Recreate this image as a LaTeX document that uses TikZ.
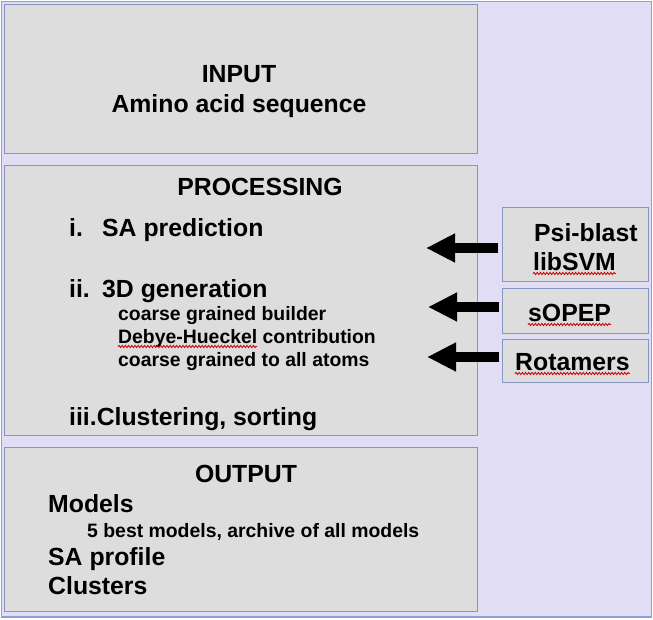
\documentclass[tikz,border=0pt]{standalone}
\usepackage{fontspec}
\setmainfont{Liberation Sans}
\usetikzlibrary{arrows.meta,decorations.pathmorphing}
\definecolor{lav}{RGB}{224,221,245}
\definecolor{boxfill}{RGB}{221,221,221}
\definecolor{boxline}{RGB}{135,150,190}
\definecolor{frameline}{RGB}{140,160,215}
\begin{document}
\begin{tikzpicture}[x=1pt,y=-1pt,
  box/.style={draw=boxline, line width=1pt, fill=boxfill, inner sep=0pt, anchor=north west},
  big/.style={font=\bfseries\fontsize{24.8}{29}\selectfont, inner sep=0pt},
  small/.style={font=\bfseries\fontsize{19.4}{23}\selectfont, inner sep=0pt},
  bigarrow/.style={line width=10pt, -{Triangle[length=29pt,width=27pt]}},
  squig/.style={draw=red!80!black, line width=0.8pt, decorate, decoration={snake, segment length=3.2pt, amplitude=1.1pt}}]
\useasboundingbox (0,0) rectangle (653,619);
\fill[white] (0,0) rectangle (653,619);
\draw[fill=lav, draw=frameline, line width=1.5pt] (1.5,1.5) rectangle (651.5,617);
% main boxes
\node[box, minimum width=473pt, minimum height=149pt] (inbox) at (4,4) {};
\node[box, minimum width=473pt, minimum height=270pt] (procbox) at (4,165) {};
\node[box, minimum width=473pt, minimum height=164pt] (outbox) at (4,447) {};
% side boxes
\node[box, minimum width=146pt, minimum height=74pt] (psibox) at (502,207) {};
\node[box, minimum width=146pt, minimum height=45pt] (sopepbox) at (502,288) {};
\node[box, minimum width=146pt, minimum height=43pt] (rotbox) at (502,339) {};
% input texts
\node[big, anchor=base] (tinput) at (239,82) {INPUT};
\node[big, anchor=base] (tamino) at (239,112) {Amino acid sequence};
% processing texts
\node[big, anchor=base] (tproc) at (260,195) {PROCESSING};
\node[big, anchor=base west] (tsa) at (69,236) {\makebox[33pt][l]{i.}SA prediction};
\node[big, anchor=base west] (tgen) at (69,297) {\makebox[33pt][l]{ii.}3D generation};
\node[small, anchor=base west] (tcgb) at (118,320) {coarse grained builder};
\node[small, anchor=base west] (tdeb) at (118,343) {Debye-Hueckel contribution};
\node[small, anchor=base west] (tcga) at (118,366) {coarse grained to all atoms};
\node[big, anchor=base west] (tclu) at (69,425) {iii.Clustering, sorting};
% output texts
\node[big, anchor=base] (tout) at (246,482) {OUTPUT};
\node[big, anchor=base west] (tmod) at (48,512) {Models};
\node[small, anchor=base west] (tbest) at (87,537) {5 best models, archive of all models};
\node[big, anchor=base west] (tsap) at (48,565) {SA profile};
\node[big, anchor=base west] (tcl) at (48,594) {Clusters};
% side texts
\node[big, anchor=base west] (tpsi) at (534,241) {Psi-blast};
\node[big, anchor=base west] (tlib) at (533,270) {libSVM};
\node[big, anchor=base west] (tsop) at (528,321) {sOPEP};
\node[big, anchor=base west] (trot) at (515,370) {Rotamers};
% spell-check squiggles
\draw[squig] ([yshift=-3.5pt]tlib.base west) -- ([yshift=-3.5pt]tlib.base east);
\draw[squig] ([yshift=-3.5pt]tsop.base west) -- ([yshift=-3.5pt]tsop.base east);
\draw[squig] ([yshift=-3.5pt]trot.base west) -- ([yshift=-3.5pt]trot.base east);
\draw[squig] ([yshift=-3.5pt]tdeb.base west) -- ([yshift=-3.5pt,xshift=139pt]tdeb.base west);
% arrows
\coordinate (a1s) at (498,248);
\coordinate (a1e) at (426,248);
\coordinate (a2s) at (499,307);
\coordinate (a2e) at (428,307);
\coordinate (a3s) at (499,357);
\coordinate (a3e) at (427,357);
\draw[bigarrow] (a1s) -- (a1e);
\draw[bigarrow] (a2s) -- (a2e);
\draw[bigarrow] (a3s) -- (a3e);
\end{tikzpicture}
\end{document}
